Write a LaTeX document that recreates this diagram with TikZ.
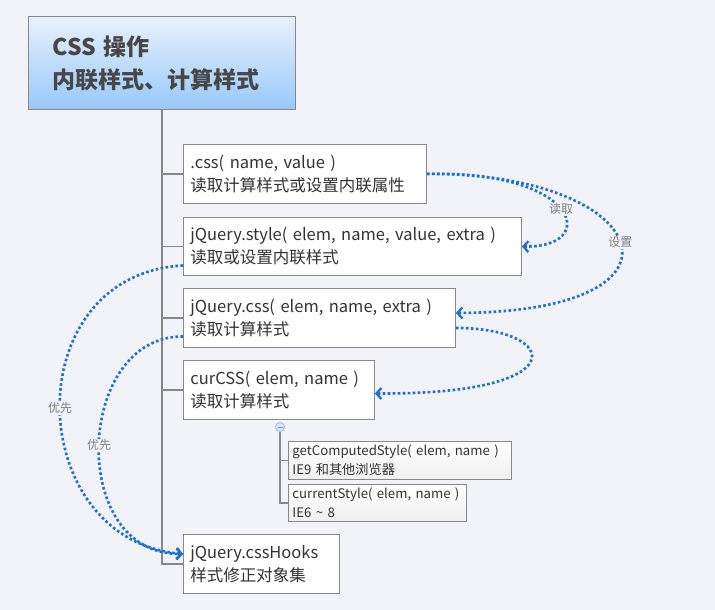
\documentclass[tikz,border=0pt]{standalone}
\usepackage{fontspec}
\setmainfont{Noto Sans CJK SC}
\usetikzlibrary{arrows.meta,calc}
\definecolor{bg}{HTML}{F1F3F8}
\definecolor{edge}{HTML}{888888}
\definecolor{txt}{HTML}{333333}
\definecolor{flow}{HTML}{1A6ED8}
\definecolor{rootTop}{HTML}{E8F1FD}
\definecolor{rootBot}{HTML}{98C9FA}
\begin{document}
\begin{tikzpicture}[x=1pt,y=-1pt,
  rootbox/.style={draw=edge, line width=1pt, top color=rootTop, bottom color=rootBot,
    anchor=north west, inner xsep=24pt, align=left, text=black!72,
    font=\fontsize{23}{33}\selectfont\bfseries},
  mainbox/.style={draw=edge, line width=0.9pt, fill=white, anchor=north west,
    inner xsep=7pt, inner ysep=0pt, align=left, text=txt,
    font=\fontsize{16.5}{23}\selectfont},
  subbox/.style={draw=edge, line width=0.9pt, top color=white, bottom color=black!6,
    anchor=north west, inner xsep=4pt, inner ysep=0pt, align=left, text=txt,
    font=\fontsize{13.2}{19}\selectfont},
  trunk/.style={draw=edge, line width=1.1pt},
  flowline/.style={draw=flow, line width=2.6pt, dash pattern=on 2.6pt off 2.4pt,
    -{Straight Barb[length=5pt,width=11pt,line width=2.2pt]}},
  lbl/.style={fill=bg, text=black!50, inner sep=1pt, font=\fontsize{12}{14}\selectfont}
]
\useasboundingbox[fill=bg] (0,0) rectangle (715,610);

\node[rootbox, minimum width=267pt, minimum height=93pt, text width=219pt] (root) at (28,16)
  {CSS 操作\\内联样式、计算样式};

\node[mainbox, minimum width=243pt, minimum height=59pt, text width=229pt] (b1) at (183,144)
  {.css( name, value )\\读取计算样式或设置内联属性};
\node[mainbox, minimum width=338pt, minimum height=58pt, text width=324pt] (b2) at (183,217)
  {jQuery.style( elem, name, value, extra )\\读取或设置内联样式};
\node[mainbox, minimum width=272pt, minimum height=59pt, text width=258pt] (b3) at (183,288)
  {jQuery.css( elem, name, extra )\\读取计算样式};
\node[mainbox, minimum width=191pt, minimum height=59pt, text width=177pt] (b4) at (183,360)
  {curCSS( elem, name )\\读取计算样式};
\node[mainbox, minimum width=156pt, minimum height=59pt, text width=142pt] (hooks) at (183,534)
  {jQuery.cssHooks\\样式修正对象集};

\node[subbox, minimum width=223pt, minimum height=38pt, text width=215pt] (b6) at (288,441)
  {getComputedStyle( elem, name )\\IE9 和其他浏览器};
\node[subbox, minimum width=178pt, minimum height=37pt, text width=170pt] (b7) at (288,484)
  {currentStyle( elem, name )\\IE6 \textasciitilde{} 8};

% trunk
\draw[trunk] (root.south) -- (root.south |- hooks.west) -- (hooks.west);
\foreach \b in {b1,b2,b3,b4} \draw[trunk] (root.south |- \b.west) -- (\b.west);

% collapse marker and sub-branches
\node[circle, draw=flow!45, fill=flow!15, line width=0.8pt, minimum size=9pt, inner sep=0pt] (tog) at (280,427) {};
\draw[draw=flow!70, line width=0.8pt] ($(tog.center)+(-2.5,0)$) -- ($(tog.center)+(2.5,0)$);
\draw[trunk] (tog.south) -- (tog.south |- b7.west) -- (b7.west);
\draw[trunk] (tog.south |- b6.west) -- (b6.west);

% flows
\coordinate (s1) at (b1.east);
\coordinate (e1) at (b2.east);
\coordinate (e2) at ($(b3.east)+(0,-5)$);
\coordinate (s3) at ($(b3.east)+(0,10)$);
\coordinate (e3) at ($(b4.east)+(0,3.5)$);
\coordinate (s4) at ($(b2.west)+(0,19)$);
\coordinate (s5) at ($(b3.west)+(0,18.5)$);
\coordinate (e4) at ($(hooks.west)+(0,-10)$);

\draw[flowline] (s1) .. controls (580,170) and (600,248) .. node[lbl, pos=0.5] {读取} (e1);
\draw[flowline] (s1) .. controls (650,172) and (710,312) .. node[lbl, pos=0.5] {设置} (e2);
\draw[flowline] (s3) .. controls (560,328) and (578,395) .. (e3);
\draw[flowline] (s4) .. controls (15,275) and (23,540) .. node[lbl, pos=0.5] {优先} (e4);
\draw[flowline] (s5) .. controls (75,336) and (67,555) .. node[lbl, pos=0.5] {优先} (e4);
\end{tikzpicture}
\end{document}
